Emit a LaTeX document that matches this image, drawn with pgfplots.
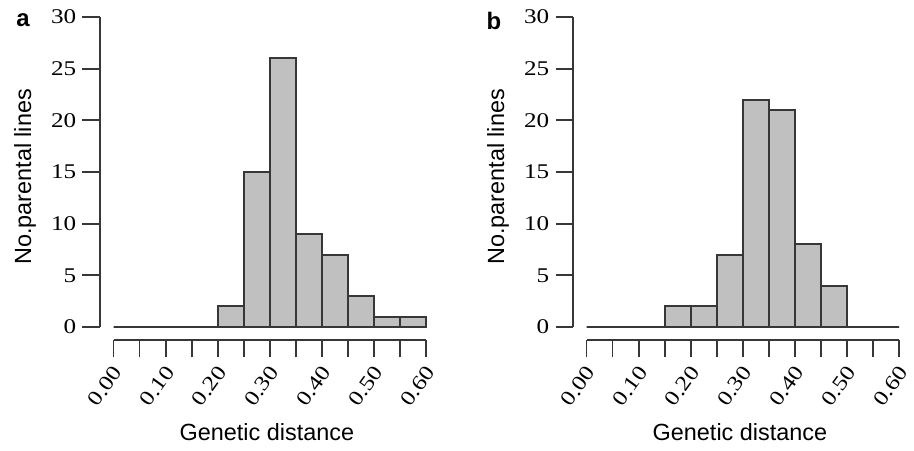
\documentclass[border=0pt]{standalone}
\usepackage{pgfplots}
\pgfplotsset{compat=1.18}
\usepackage{fontspec}
\setmainfont{Liberation Sans}
\newfontfamily\serif{Liberation Serif}

\definecolor{barfill}{RGB}{192,192,192}
\definecolor{linecol}{RGB}{55,55,55}

\pgfplotsset{
  histo/.style={
    scale only axis,
    width=326bp, height=323bp,
    xmin=-0.026, xmax=0.6,
    ymin=-1.26, ymax=30,
    axis x line*=bottom, axis y line*=left,
    axis line style={draw=none},
    tick align=outside,
    major tick length=17.5bp,
    tick style={linecol, line width=1.8bp},
    xtick={0,0.05,0.1,0.15,0.2,0.25,0.3,0.35,0.4,0.45,0.5,0.55,0.6},
    xticklabels={0.00,{},0.10,{},0.20,{},0.30,{},0.40,{},0.50,{},0.60},
    ytick={0,5,10,15,20,25,30},
    /pgf/number format/assume math mode=true,
    tick label style={font=\serif\fontsize{21}{21}\selectfont},
    xticklabel style={xshift=5bp, yshift=-10bp, rotate=54, xscale=1.18, anchor=east, inner sep=1bp},
    yticklabel style={inner sep=0pt, xshift=-6bp, xscale=1.2},
    xlabel={Genetic distance},
    ylabel={No.parental lines},
    label style={font=\fontsize{23.5}{24}\selectfont},
    xlabel style={at={(axis description cs:0.512,-0.285)}, anchor=center},
    ylabel style={at={(axis description cs:-0.23,0.505)}, anchor=center},
    clip=false,
  },
  bars/.style={ybar interval, fill=barfill, draw=linecol, line width=1.8bp},
}

\begin{document}
\begin{tikzpicture}[x=1bp,y=1bp]
\useasboundingbox (0,0) rectangle (914,451);

% panel a
\begin{axis}[histo, at={(100bp,111bp)}, anchor=south west]
\addplot[bars] coordinates {
  (0.00,0) (0.05,0) (0.10,0) (0.15,0) (0.20,2) (0.25,15)
  (0.30,26) (0.35,9) (0.40,7) (0.45,3) (0.50,1) (0.55,1) (0.60,1)
};
\draw[linecol, line width=1.8bp] (axis cs:0,-1.26) -- (axis cs:0.6,-1.26);
\draw[linecol, line width=1.8bp] (axis cs:-0.026,0) -- (axis cs:-0.026,30);
\end{axis}

% panel b
\begin{axis}[histo, at={(573bp,111bp)}, anchor=south west]
\addplot[bars] coordinates {
  (0.00,0) (0.05,0) (0.10,0) (0.15,2) (0.20,2) (0.25,7)
  (0.30,22) (0.35,21) (0.40,8) (0.45,4) (0.50,0) (0.55,0) (0.60,0)
};
\draw[linecol, line width=1.8bp] (axis cs:0,-1.26) -- (axis cs:0.6,-1.26);
\draw[linecol, line width=1.8bp] (axis cs:-0.026,0) -- (axis cs:-0.026,30);
\end{axis}

\node[font=\bfseries\fontsize{24}{24}\selectfont, anchor=base] at (23,424) {a};
\node[font=\bfseries\fontsize{24}{24}\selectfont, anchor=base] at (494,421) {b};
\end{tikzpicture}
\end{document}
